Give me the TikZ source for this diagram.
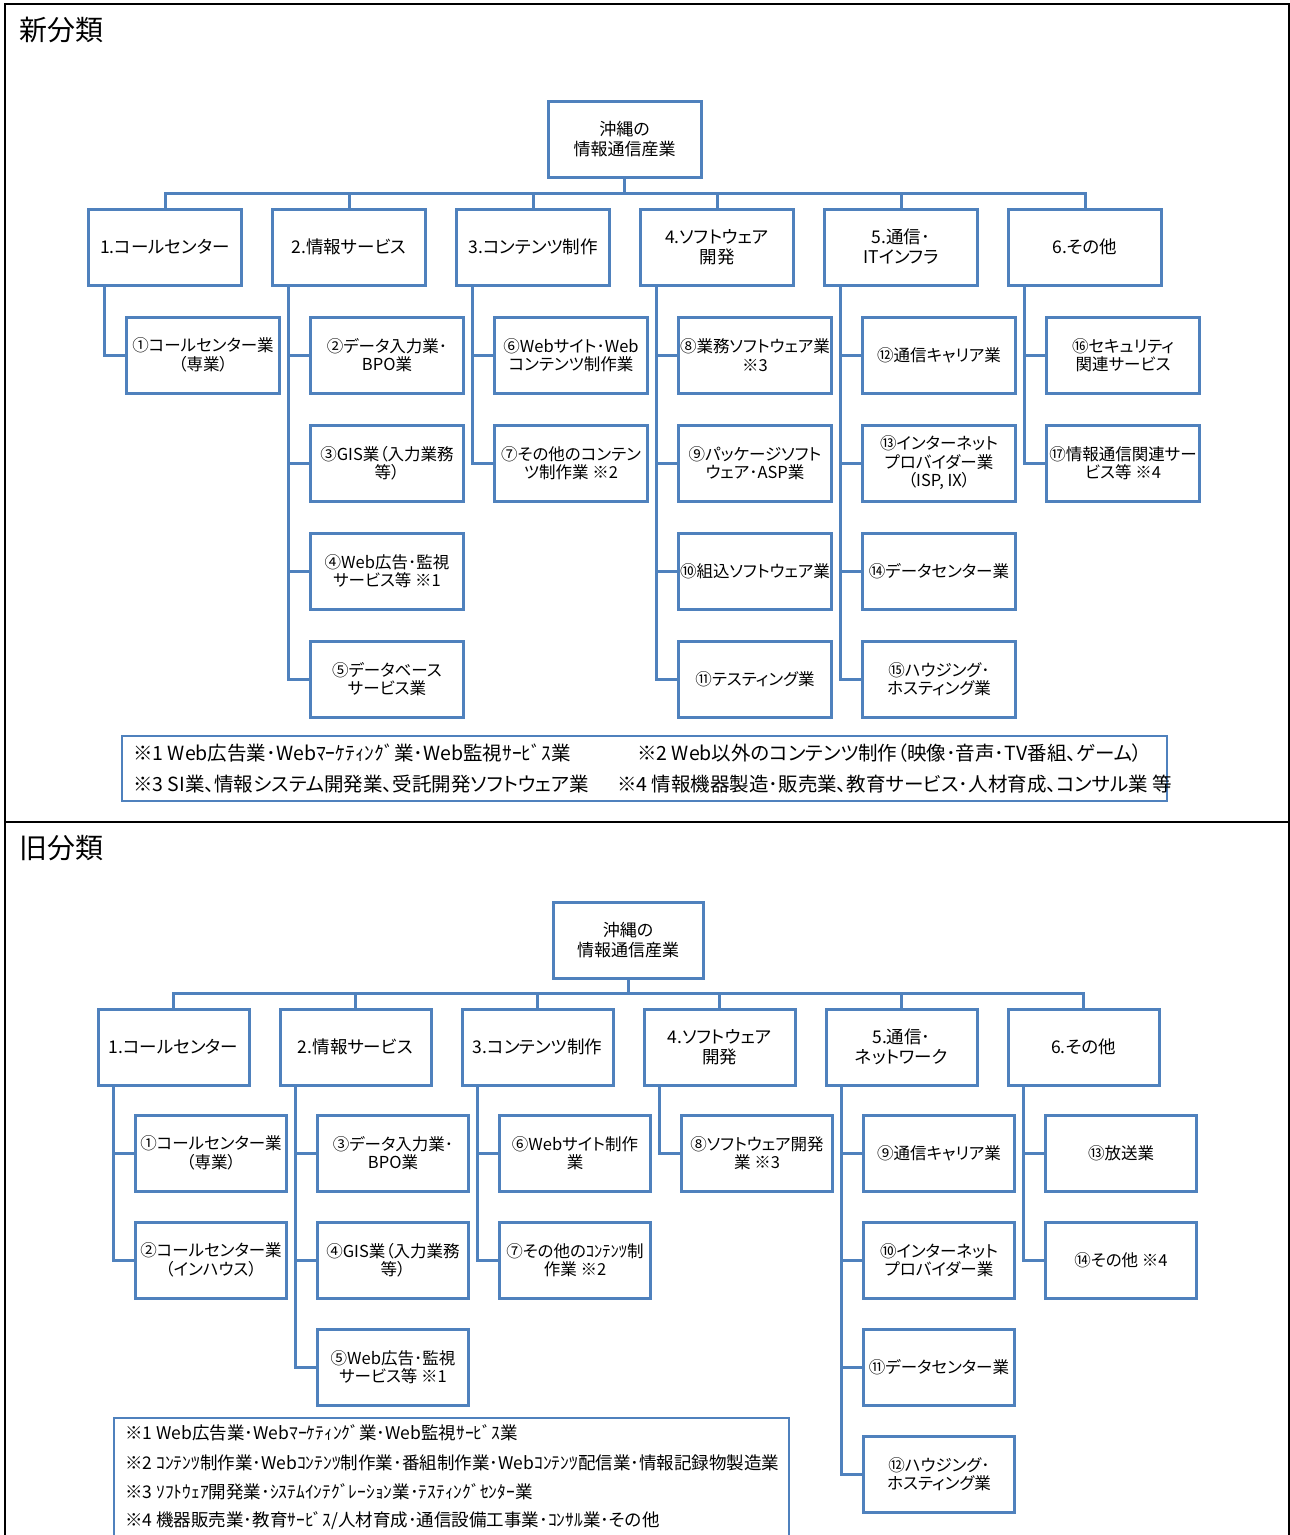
\documentclass[tikz,border=0pt]{standalone}
\usepackage{fontspec}
\setmainfont{Noto Sans CJK JP}[RawFeature=+palt]
\usepackage{tikz}
\usetikzlibrary{positioning}
\definecolor{chartblue}{HTML}{4F81BD}
\tikzset{
    box/.style={
        draw=chartblue,
        line width=3pt,
        fill=white,
        align=center,
        minimum width=#1,
        minimum height=76pt,
        inner sep=1pt,
        outer sep=0pt
    },
    box/.default=153pt,
    rootbox/.style={box=#1, font=\fontsize{17pt}{20pt}\selectfont},
    rootbox/.default=153pt,
    catbox/.style={box=#1, font=\fontsize{17.5pt}{20pt}\selectfont},
    catbox/.default=153pt,
    itembox/.style={box=#1, font=\fontsize{16.5pt}{18.5pt}\selectfont},
    itembox/.default=153pt,
    link/.style={draw=chartblue, line width=3pt},
    notebox/.style={draw=chartblue, line width=2pt, inner sep=0pt, anchor=north west},
    notetext/.style={anchor=west, inner sep=0pt, font=\fontsize{19.5pt}{22pt}\selectfont},
    oldnote/.style={anchor=west, inner sep=0pt, font=\fontsize{17.5pt}{20pt}\selectfont},
    heading/.style={anchor=west, inner sep=0pt, font=\fontsize{28pt}{30pt}\selectfont},
    frame/.style={draw=black, line width=2.5pt}
}

\begin{document}
\begin{tikzpicture}[x=1pt, y=-1pt]
    \useasboundingbox (0,0) rectangle (1290,1535);
    % frames of both panels
    \draw[frame] (5,1545) -- (5,4) -- (1289,4) -- (1289,1545);
    \draw[frame] (5,822) -- (1289,822);

    % ---- new classification ----
    \node[heading] (newtitle) at (19,30) {新分類};
    \node[rootbox] (root) at (624.5,139) {沖縄の\\情報通信産業};
    \node[catbox] (a1) at (165,247) {1.コールセンター};
    \node[catbox, right=31pt of a1] (a2) {2.情報サービス};
    \node[catbox, right=31pt of a2] (a3) {3.コンテンツ制作};
    \node[catbox, right=31pt of a3] (a4) {4.ソフトウェア\\開発};
    \node[catbox, right=31pt of a4] (a5) {5.通信･\\ITインフラ};
    \node[catbox, right=31pt of a5] (a6) {6.その他};

    \node[itembox, below=32pt of a1, xshift=38pt] (b1) {①コールセンター業\\（専業）};
    \node[itembox, below=32pt of a2, xshift=38pt] (b2) {②データ入力業･\\BPO業};
    \node[itembox, below=32pt of b2] (b3) {③GIS業（入力業務\\等）};
    \node[itembox, below=32pt of b3] (b4) {④Web広告･監視\\サービス等 ※1};
    \node[itembox, below=32pt of b4] (b5) {⑤データベース\\サービス業};
    \node[itembox, below=32pt of a3, xshift=38pt] (b6) {⑥Webサイト･Web\\コンテンツ制作業};
    \node[itembox, below=32pt of b6] (b7) {⑦その他のコンテン\\ツ制作業 ※2};
    \node[itembox, below=32pt of a4, xshift=38pt] (b8) {⑧業務ソフトウェア業\\※3};
    \node[itembox, below=32pt of b8] (b9) {⑨パッケージソフト\\ウェア･ASP業};
    \node[itembox, below=32pt of b9] (b10) {⑩組込ソフトウェア業};
    \node[itembox, below=32pt of b10] (b11) {⑪テスティング業};
    \node[itembox, below=32pt of a5, xshift=38pt] (b12) {⑫通信キャリア業};
    \node[itembox, below=32pt of b12] (b13) {⑬インターネット\\プロバイダー業\\（ISP, IX）};
    \node[itembox, below=32pt of b13] (b14) {⑭データセンター業};
    \node[itembox, below=32pt of b14] (b15) {⑮ハウジング･\\ホスティング業};
    \node[itembox, below=32pt of a6, xshift=38pt] (b16) {⑯セキュリティ\\関連サービス};
    \node[itembox, below=32pt of b16] (b17) {⑰情報通信関連サー\\ビス等 ※4};

    \draw[link] (root.south) -- ++(0,-16pt) -| (a1.north);
    \draw[link] (root.south) -- ++(0,-16pt) -| (a2.north);
    \draw[link] (root.south) -- ++(0,-16pt) -| (a3.north);
    \draw[link] (root.south) -- ++(0,-16pt) -| (a4.north);
    \draw[link] (root.south) -- ++(0,-16pt) -| (a5.north);
    \draw[link] (root.south) -- ++(0,-16pt) -| (a6.north);
    \draw[link] ([xshift=16pt]a1.south west) |- (b1.west);
    \draw[link] ([xshift=16pt]a2.south west) |- (b2.west);
    \draw[link] ([xshift=16pt]a2.south west) |- (b3.west);
    \draw[link] ([xshift=16pt]a2.south west) |- (b4.west);
    \draw[link] ([xshift=16pt]a2.south west) |- (b5.west);
    \draw[link] ([xshift=16pt]a3.south west) |- (b6.west);
    \draw[link] ([xshift=16pt]a3.south west) |- (b7.west);
    \draw[link] ([xshift=16pt]a4.south west) |- (b8.west);
    \draw[link] ([xshift=16pt]a4.south west) |- (b9.west);
    \draw[link] ([xshift=16pt]a4.south west) |- (b10.west);
    \draw[link] ([xshift=16pt]a4.south west) |- (b11.west);
    \draw[link] ([xshift=16pt]a5.south west) |- (b12.west);
    \draw[link] ([xshift=16pt]a5.south west) |- (b13.west);
    \draw[link] ([xshift=16pt]a5.south west) |- (b14.west);
    \draw[link] ([xshift=16pt]a5.south west) |- (b15.west);
    \draw[link] ([xshift=16pt]a6.south west) |- (b16.west);
    \draw[link] ([xshift=16pt]a6.south west) |- (b17.west);

    \node[notebox, minimum width=1045pt, minimum height=65pt] (notes) at (121,735) {};
    \node[notetext] (note1) at (133,753) {※1 Web広告業･Webﾏｰｹﾃｨﾝｸﾞ業･Web監視ｻｰﾋﾞｽ業};
    \node[notetext] (note2) at (637,753) {※2 Web以外のコンテンツ制作（映像･音声･TV番組、ゲーム）};
    \node[notetext] (note3) at (133,784) {※3 SI業、情報システム開発業、受託開発ソフトウェア業};
    \node[notetext] (note4) at (617,784) {※4 情報機器製造･販売業、教育サービス･人材育成、コンサル業 等};

    % ---- old classification ----
    \node[heading] (oldtitle) at (19,848) {旧分類};
    \node[rootbox=150pt] (oldroot) at (628,940) {沖縄の\\情報通信産業};
    \node[catbox=151pt] (c1) at (173.5,1047) {1.コールセンター};
    \node[catbox=151pt, right=31pt of c1] (c2) {2.情報サービス};
    \node[catbox=151pt, right=31pt of c2] (c3) {3.コンテンツ制作};
    \node[catbox=151pt, right=31pt of c3] (c4) {4.ソフトウェア\\開発};
    \node[catbox=151pt, right=31pt of c4] (c5) {5.通信･\\ネットワーク};
    \node[catbox=151pt, right=31pt of c5] (c6) {6.その他};

    \node[itembox=151pt, below=30pt of c1, xshift=37.5pt] (d1) {①コールセンター業\\（専業）};
    \node[itembox=151pt, below=31pt of d1] (d2) {②コールセンター業\\（インハウス）};
    \node[itembox=151pt, below=30pt of c2, xshift=37.5pt] (d3) {③データ入力業･\\BPO業};
    \node[itembox=151pt, below=31pt of d3] (d4) {④GIS業（入力業務\\等）};
    \node[itembox=151pt, below=31pt of d4] (d5) {⑤Web広告･監視\\サービス等 ※1};
    \node[itembox=151pt, below=30pt of c3, xshift=37.5pt] (d6) {⑥Webサイト制作\\業};
    \node[itembox=151pt, below=31pt of d6] (d7) {⑦その他のｺﾝﾃﾝﾂ制\\作業 ※2};
    \node[itembox=151pt, below=30pt of c4, xshift=37.5pt] (d8) {⑧ソフトウェア開発\\業 ※3};
    \node[itembox=151pt, below=30pt of c5, xshift=37.5pt] (d9) {⑨通信キャリア業};
    \node[itembox=151pt, below=31pt of d9] (d10) {⑩インターネット\\プロバイダー業};
    \node[itembox=151pt, below=31pt of d10] (d11) {⑪データセンター業};
    \node[itembox=151pt, below=31pt of d11] (d12) {⑫ハウジング･\\ホスティング業};
    \node[itembox=151pt, below=30pt of c6, xshift=37.5pt] (d13) {⑬放送業};
    \node[itembox=151pt, below=31pt of d13] (d14) {⑭その他 ※4};

    \draw[link] (oldroot.south) -- ++(0,-15.5pt) -| (c1.north);
    \draw[link] (oldroot.south) -- ++(0,-15.5pt) -| (c2.north);
    \draw[link] (oldroot.south) -- ++(0,-15.5pt) -| (c3.north);
    \draw[link] (oldroot.south) -- ++(0,-15.5pt) -| (c4.north);
    \draw[link] (oldroot.south) -- ++(0,-15.5pt) -| (c5.north);
    \draw[link] (oldroot.south) -- ++(0,-15.5pt) -| (c6.north);
    \draw[link] ([xshift=15.5pt]c1.south west) |- (d1.west);
    \draw[link] ([xshift=15.5pt]c1.south west) |- (d2.west);
    \draw[link] ([xshift=15.5pt]c2.south west) |- (d3.west);
    \draw[link] ([xshift=15.5pt]c2.south west) |- (d4.west);
    \draw[link] ([xshift=15.5pt]c2.south west) |- (d5.west);
    \draw[link] ([xshift=15.5pt]c3.south west) |- (d6.west);
    \draw[link] ([xshift=15.5pt]c3.south west) |- (d7.west);
    \draw[link] ([xshift=15.5pt]c4.south west) |- (d8.west);
    \draw[link] ([xshift=15.5pt]c5.south west) |- (d9.west);
    \draw[link] ([xshift=15.5pt]c5.south west) |- (d10.west);
    \draw[link] ([xshift=15.5pt]c5.south west) |- (d11.west);
    \draw[link] ([xshift=15.5pt]c5.south west) |- (d12.west);
    \draw[link] ([xshift=15.5pt]c6.south west) |- (d13.west);
    \draw[link] ([xshift=15.5pt]c6.south west) |- (d14.west);

    \node[notebox, minimum width=675pt, minimum height=140pt] (oldnotes) at (112.5,1417) {};
    \node[oldnote] (oldnote1) at (125,1433) {※1 Web広告業･Webﾏｰｹﾃｨﾝｸﾞ業･Web監視ｻｰﾋﾞｽ業};
    \node[oldnote] (oldnote2) at (125,1463) {※2 ｺﾝﾃﾝﾂ制作業･Webｺﾝﾃﾝﾂ制作業･番組制作業･Webｺﾝﾃﾝﾂ配信業･情報記録物製造業};
    \node[oldnote] (oldnote3) at (125,1492) {※3 ｿﾌﾄｳｪｱ開発業･ｼｽﾃﾑｲﾝﾃｸﾞﾚｰｼｮﾝ業･ﾃｽﾃｨﾝｸﾞｾﾝﾀｰ業};
    \node[oldnote] (oldnote4) at (125,1521) {※4 機器販売業･教育ｻｰﾋﾞｽ/人材育成･通信設備工事業･ｺﾝｻﾙ業･その他};
\end{tikzpicture}
\end{document}
